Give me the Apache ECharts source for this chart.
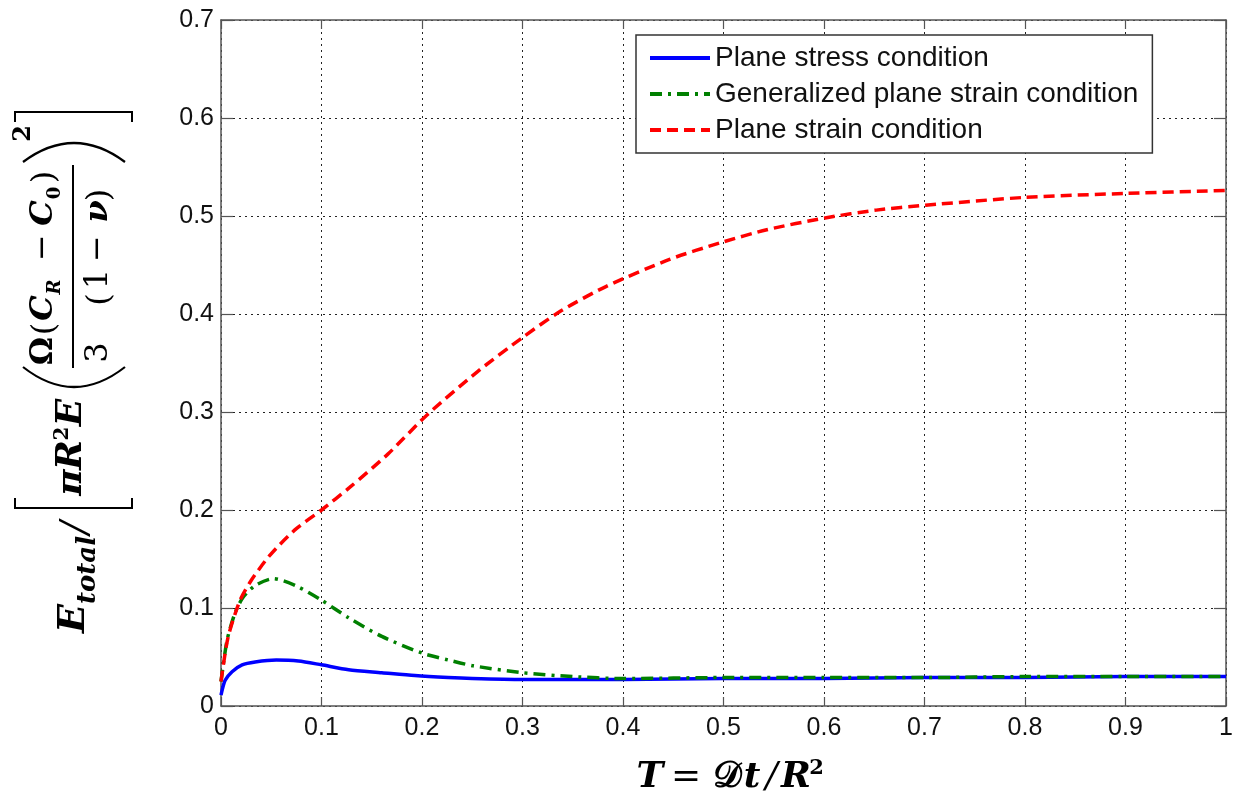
<!DOCTYPE html>
<html><head><meta charset="utf-8">
<script src="https://cdn.jsdelivr.net/npm/echarts@6/dist/echarts.min.js"></script>
<style>html,body{margin:0;padding:0;background:#fff}#c{width:1249px;height:802px}</style>
</head><body><div id="c"></div>
<script>
// ---- data ----
const seriesNames = ['Plane stress condition', 'Generalized plane strain condition', 'Plane strain condition'];
const stressX = [0, 0.004, 0.011, 0.021, 0.034, 0.055, 0.077, 0.1, 0.127, 0.16, 0.193, 0.226, 0.25, 0.3, 0.35, 0.4, 0.5, 0.6, 0.7, 0.8, 0.9, 1.0];
const stressY = [0.011, 0.026, 0.035, 0.042, 0.045, 0.047, 0.046, 0.042, 0.037, 0.034, 0.031, 0.029, 0.028, 0.027, 0.027, 0.027, 0.028, 0.028, 0.029, 0.029, 0.030, 0.030];
const genX = [0, 0.006, 0.014, 0.022, 0.034, 0.052, 0.074, 0.1, 0.127, 0.16, 0.2, 0.226, 0.251, 0.3, 0.35, 0.4, 0.5, 0.6, 0.7, 0.8, 0.9, 1.0];
const genY = [0.025, 0.067, 0.095, 0.111, 0.123, 0.130, 0.123, 0.108, 0.090, 0.071, 0.054, 0.047, 0.041, 0.034, 0.030, 0.028, 0.029, 0.029, 0.029, 0.030, 0.030, 0.030];
const strainX = [0, 0.007, 0.019, 0.03, 0.044, 0.055, 0.075, 0.1, 0.128, 0.166, 0.205, 0.255, 0.3, 0.338, 0.383, 0.447, 0.498, 0.543, 0.601, 0.652, 0.701, 0.8, 0.9, 1.0];
const strainY = [0.025, 0.07, 0.108, 0.128, 0.148, 0.161, 0.181, 0.2, 0.223, 0.257, 0.297, 0.341, 0.376, 0.403, 0.428, 0.456, 0.473, 0.486, 0.498, 0.506, 0.511, 0.519, 0.523, 0.526];
const xRange = [0, 1, 0.1];
const yRange = [0, 0.7, 0.1];

// ---- helpers ----
const pairs = (xs, ys) => xs.map((x, i) => [x, ys[i]]);
const fmt = v => String(+v.toFixed(1));
const AX = '#555';
const serif = 'DejaVu Serif';

function glyph(t, x, base, size, weight, style) {
  return {
    type: 'text', x: x, y: base - 0.35 * size,
    style: {
      text: t, fontSize: size, fontFamily: serif, fontWeight: weight || 'normal',
      fontStyle: style || 'normal', fill: '#000',
      align: 'center', verticalAlign: 'middle', textAlign: 'center', textVerticalAlign: 'middle'
    }
  };
}

// y-axis title, laid out horizontally then rotated
const yGlyphs = [
  ['E', 13.5, 87, 38, 'bold', 'italic'],
  ['total', 62, 97, 26, 'bold', 'italic'],
  ['/', 104.5, 89, 38, 'normal', 'italic'],
  ['π', 149.5, 84, 36, 'bold', 'italic'],
  ['R', 177, 84, 36, 'bold', 'italic'],
  ['2', 198.5, 70, 20, 'bold', 'normal'],
  ['E', 219.5, 84, 36, 'bold', 'italic'],
  ['Ω', 281, 55, 32, 'bold', 'normal'],
  ['(', 303, 57, 32, 'normal', 'normal'],
  ['C', 324, 55, 32, 'bold', 'italic'],
  ['R', 345, 62, 18, 'bold', 'italic'],
  ['−', 384.5, 55, 32, 'normal', 'normal'],
  ['C', 419, 55, 32, 'bold', 'italic'],
  ['0', 439, 62, 18, 'bold', 'normal'],
  [')', 455, 57, 32, 'normal', 'normal'],
  ['3', 279.5, 110, 32, 'normal', 'normal'],
  ['(', 332.5, 112, 32, 'normal', 'normal'],
  ['1', 353, 110, 32, 'normal', 'normal'],
  ['−', 383.5, 110, 32, 'normal', 'normal'],
  ['ν', 420.5, 110, 32, 'bold', 'italic'],
  [')', 437, 112, 32, 'normal', 'normal'],
  ['2', 498.5, 32, 24, 'bold', 'normal']
];
const stroke = (w) => ({ stroke: '#000', lineWidth: w, fill: null });
const yChildren = yGlyphs.map(g => glyph.apply(null, g)).concat([
  { type: 'polyline', shape: { points: [[134, 15], [124, 15], [124, 132], [134, 132]] }, style: stroke(2) },
  { type: 'polyline', shape: { points: [[510, 15], [520, 15], [520, 132], [510, 132]] }, style: stroke(2) },
  { type: 'bezierCurve', shape: { x1: 265, y1: 23, cpx1: 225, cpy1: 74, x2: 265, y2: 125 }, style: stroke(2.2) },
  { type: 'bezierCurve', shape: { x1: 470, y1: 23, cpx1: 508, cpy1: 74, x2: 470, y2: 125 }, style: stroke(2.2) },
  { type: 'line', shape: { x1: 264, y1: 73, x2: 467, y2: 73 }, style: stroke(2) }
]);

const xGlyphs = [
  ['T', 650, 790, 36, 'bold', 'italic'],
  ['=', 686, 790, 36, 'normal', 'normal'],
  ['𝒟', 727, 790, 36, 'bold', 'normal'],
  ['t', 752, 790, 36, 'bold', 'italic'],
  ['/', 771.5, 790, 36, 'normal', 'italic'],
  ['R', 796, 790, 36, 'bold', 'italic'],
  ['2', 816.5, 776, 21, 'bold', 'normal']
];

const chart = echarts.init(document.getElementById('c'));
const axisCommon = {
  type: 'value',
  axisLine: { show: true, onZero: false, lineStyle: { color: AX, width: 1.5 } },
  axisTick: { show: true, inside: true, lineStyle: { color: AX, width: 1.2 } }
};
const gridLine = { show: true, lineStyle: { type: [2, 4], color: '#222', width: 1 } };
const lblStyle = { fontSize: 25, fontFamily: 'Liberation Sans', color: '#111', formatter: fmt };
const lineCommon = { type: 'line', symbol: 'none', showSymbol: false, smooth: 0.25 };

chart.setOption({
  animation: false,
  backgroundColor: '#fff',
  grid: { left: 221, top: 20, right: 23, bottom: 96, containLabel: false },
  xAxis: [
    Object.assign({}, axisCommon, { position: 'bottom', min: xRange[0], max: xRange[1], interval: xRange[2],
      axisTick: Object.assign({}, axisCommon.axisTick, { length: 9 }),
      axisLabel: Object.assign({ margin: 10 }, lblStyle), splitLine: gridLine }),
    Object.assign({}, axisCommon, { position: 'top', min: xRange[0], max: xRange[1], interval: xRange[2],
      axisTick: Object.assign({}, axisCommon.axisTick, { length: 9 }),
      axisLabel: { show: false }, splitLine: { show: false } })
  ],
  yAxis: [
    Object.assign({}, axisCommon, { position: 'left', min: yRange[0], max: yRange[1], interval: yRange[2],
      axisTick: Object.assign({}, axisCommon.axisTick, { length: 12 }),
      axisLabel: Object.assign({ margin: 7 }, lblStyle), splitLine: gridLine }),
    Object.assign({}, axisCommon, { position: 'right', min: yRange[0], max: yRange[1], interval: yRange[2],
      axisTick: Object.assign({}, axisCommon.axisTick, { length: 12 }),
      axisLabel: { show: false }, splitLine: { show: false } })
  ],
  legend: {
    orient: 'vertical', left: 636, top: 35,
    padding: [9, 14, 9, 12], itemWidth: 60, itemHeight: 28, itemGap: 8,
    backgroundColor: '#fff', borderColor: '#333', borderWidth: 1.5, borderRadius: 0,
    itemStyle: { opacity: 0, borderWidth: 0 },
    lineStyle: { width: 4 },
    textStyle: { fontSize: 28, fontFamily: 'Liberation Sans', color: '#111', lineHeight: 28 },
    data: seriesNames
  },
  series: [
    Object.assign({}, lineCommon, { name: seriesNames[0], data: pairs(stressX, stressY),
      lineStyle: { color: '#0000ff', width: 3.5 }, itemStyle: { color: '#0000ff' }, z: 2 }),
    Object.assign({}, lineCommon, { name: seriesNames[1], data: pairs(genX, genY),
      lineStyle: { color: '#008000', width: 3.5, type: [12, 6, 3, 6] }, itemStyle: { color: '#008000' }, z: 3 }),
    Object.assign({}, lineCommon, { name: seriesNames[2], data: pairs(strainX, strainY),
      lineStyle: { color: '#ff0000', width: 3.5, type: [11, 6] }, itemStyle: { color: '#ff0000' }, z: 4 })
  ],
  graphic: [
    { type: 'group', x: 0, y: 632, rotation: Math.PI / 2, children: yChildren },
    { type: 'group', x: 0, y: 0, children: xGlyphs.map(g => glyph.apply(null, g)) }
  ]
});
</script></body></html>
